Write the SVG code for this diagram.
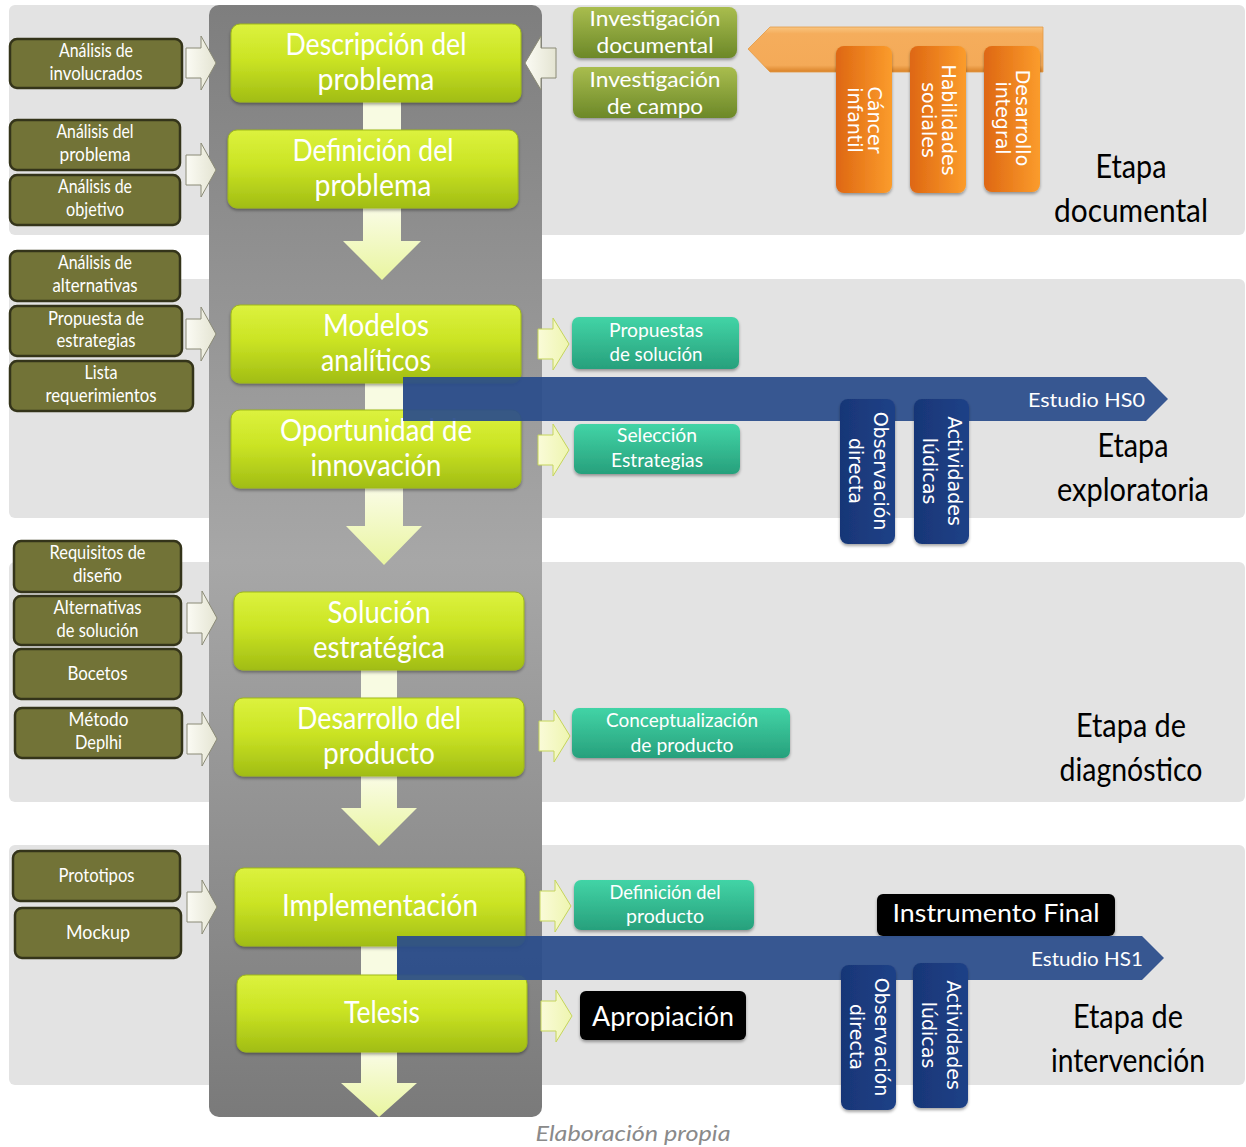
<svg xmlns="http://www.w3.org/2000/svg" width="1246" height="1147" viewBox="0 0 1246 1147">
<defs>
  <linearGradient id="gCol" x1="0" y1="0" x2="0" y2="1">
    <stop offset="0" stop-color="#7e7e7e"/><stop offset="0.5" stop-color="#a7a7a7"/><stop offset="1" stop-color="#7a7a7a"/>
  </linearGradient>
  <linearGradient id="gProc" x1="0" y1="0" x2="0" y2="1">
    <stop offset="0" stop-color="#dcf23e"/><stop offset="0.45" stop-color="#cbe424"/><stop offset="1" stop-color="#a1bd14"/>
  </linearGradient>
  <linearGradient id="gTeal" x1="0" y1="0" x2="0" y2="1">
    <stop offset="0" stop-color="#42d4a6"/><stop offset="1" stop-color="#27a07c"/>
  </linearGradient>
  <linearGradient id="gInv" x1="0" y1="0" x2="0" y2="1">
    <stop offset="0" stop-color="#a9bd4e"/><stop offset="1" stop-color="#6c8828"/>
  </linearGradient>
  <linearGradient id="gOrg" x1="0" y1="0" x2="1" y2="0">
    <stop offset="0" stop-color="#de6712"/><stop offset="1" stop-color="#fb9c2c"/>
  </linearGradient>
  <linearGradient id="gOrgArr" x1="0" y1="0" x2="0" y2="1">
    <stop offset="0" stop-color="#f9c57f"/><stop offset="0.15" stop-color="#f5ad5c"/><stop offset="0.85" stop-color="#f4aa58"/><stop offset="1" stop-color="#d98228"/>
  </linearGradient>
  <linearGradient id="gNavy" x1="0" y1="0" x2="1" y2="0">
    <stop offset="0" stop-color="#183677"/><stop offset="1" stop-color="#1f4187"/>
  </linearGradient>
  <linearGradient id="gDown" x1="0" y1="0" x2="0" y2="1">
    <stop offset="0" stop-color="#fafce6"/><stop offset="1" stop-color="#e9f5a0"/>
  </linearGradient>
  <linearGradient id="gCream" x1="0" y1="0" x2="1" y2="0">
    <stop offset="0" stop-color="#fbfbf4"/><stop offset="1" stop-color="#e4e4d2"/>
  </linearGradient>
  <linearGradient id="gYel" x1="0" y1="0" x2="1" y2="0">
    <stop offset="0" stop-color="#fafbd8"/><stop offset="1" stop-color="#eef5b0"/>
  </linearGradient>
  <filter id="sh" x="-10%" y="-20%" width="120%" height="150%">
    <feDropShadow dx="0" dy="2" stdDeviation="1.5" flood-color="#000" flood-opacity="0.35"/>
  </filter>
</defs>
<style>
  .band{fill:#e3e3e3}
  .proc rect{fill:url(#gProc);stroke:#9fb91a;stroke-width:1;filter:url(#sh)}
  .proc text{font-family:Lato,"Liberation Sans",sans-serif;font-size:30px;fill:#fff;text-anchor:middle}
  .olive rect{fill:#727337;stroke:#34341a;stroke-width:2.5}
  .olive text{font-family:Lato,"Liberation Sans",sans-serif;font-size:19px;fill:#fff;text-anchor:middle}
  .teal rect{fill:url(#gTeal);filter:url(#sh)}
  .teal text{font-family:Lato,"Liberation Sans",sans-serif;font-size:20px;fill:#fff;text-anchor:middle}
  .inv rect{fill:url(#gInv);filter:url(#sh)}
  .inv text{font-family:Lato,"Liberation Sans",sans-serif;font-size:21px;fill:#fff;text-anchor:middle}
  .orng rect{fill:url(#gOrg);filter:url(#sh)}
  .navy rect{fill:url(#gNavy);filter:url(#sh)}
  .vt{font-family:"DejaVu Sans",sans-serif;font-size:19px;fill:#fff;text-anchor:middle}
  .etapa text{font-family:Lato,"Liberation Sans",sans-serif;font-size:33px;fill:#000;text-anchor:middle}
  .blk rect{fill:#000;filter:url(#sh)}
  .blk text{font-family:Lato,"Liberation Sans",sans-serif;fill:#fff;text-anchor:middle}
  .study path{fill:#2a4c8b;fill-opacity:0.93}
  .study text{font-family:Lato,"Liberation Sans",sans-serif;font-size:20px;fill:#fff;text-anchor:end}
  .lar{fill:url(#gCream);stroke:#8a8a76;stroke-width:1}
  .rar{fill:url(#gYel);stroke:#c5d55a;stroke-width:1}
  .down{fill:url(#gDown)}
  .link{fill:#f8fbe2}
  .cap{font-family:Lato,"Liberation Sans",sans-serif;font-style:italic;font-size:22px;fill:#8a8a8a;text-anchor:middle}
</style>

<g id="background">
  <rect class="band" x="9" y="5" width="1236" height="230" rx="6"/>
  <rect class="band" x="9" y="279" width="1236" height="239" rx="6"/>
  <rect class="band" x="9" y="562" width="1236" height="240" rx="6"/>
  <rect class="band" x="9" y="845" width="1236" height="240" rx="6"/>
  <rect x="209" y="5" width="333" height="1112" rx="10" fill="url(#gCol)"/>
</g>

<g id="connectors">
  <rect class="link" x="363" y="101" width="38" height="30"/>
  <rect class="link" x="365" y="382" width="38" height="29"/>
  <rect class="link" x="361" y="669" width="36" height="30"/>
  <rect class="link" x="361" y="945" width="36" height="31"/>
  <path class="down" d="M363,207 H401 V241 H421 L382,280 L343,241 H363 Z"/>
  <path class="down" d="M365,487 H403 V526 H422 L384,565 L346,526 H365 Z"/>
  <path class="down" d="M361,775 H397 V808 H417 L379,846 L341,808 H361 Z"/>
  <path class="down" d="M361,1051 H397 V1083 H417 L379,1117 L341,1083 H361 Z"/>
  <path class="lar" d="M186,48 H201 V36 L216,63 L201,90 V78 H186 Z"/>
  <path class="lar" d="M186,155 H201 V143 L216,170 L201,197 V185 H186 Z"/>
  <path class="lar" d="M186,319 H201 V307 L216,334 L201,361 V349 H186 Z"/>
  <path class="lar" d="M187,603 H202 V591 L217,618 L202,645 V633 H187 Z"/>
  <path class="lar" d="M187,724 H202 V712 L217,739 L202,766 V754 H187 Z"/>
  <path class="lar" d="M187,892 H202 V880 L217,907 L202,934 V922 H187 Z"/>
  <path class="lar" d="M556,48 H541 V36 L525,63 L541,90 V78 H556 Z"/>
  <path class="rar" d="M538,329 H553 V318 L569,344 L553,370 V359 H538 Z"/>
  <path class="rar" d="M538,435 H553 V424 L569,450 L553,476 V465 H538 Z"/>
  <path class="rar" d="M539,721 H554 V710 L570,736 L554,762 V751 H539 Z"/>
  <path class="rar" d="M540,891 H555 V880 L571,906 L555,932 V921 H540 Z"/>
  <path class="rar" d="M541,1001 H556 V990 L572,1016 L556,1042 V1031 H541 Z"/>
  <path d="M748,49 L770,27 H1043 V72 H770 Z" fill="url(#gOrgArr)" stroke="#e39a45" stroke-width="0.8"/>
</g>

<g id="n-involucrados" class="olive"><rect x="10" y="39" width="172" height="49" rx="7"/>
  <text x="96" y="57" textLength="74" lengthAdjust="spacingAndGlyphs">Análisis de</text>
  <text x="96" y="80" textLength="93" lengthAdjust="spacingAndGlyphs">involucrados</text></g>
<g id="n-analisis-problema" class="olive"><rect x="10" y="120" width="170" height="50" rx="7"/>
  <text x="95" y="138" textLength="77" lengthAdjust="spacingAndGlyphs">Análisis del</text>
  <text x="95" y="161" textLength="71" lengthAdjust="spacingAndGlyphs">problema</text></g>
<g id="n-analisis-objetivo" class="olive"><rect x="10" y="175" width="170" height="50" rx="7"/>
  <text x="95" y="193" textLength="74" lengthAdjust="spacingAndGlyphs">Análisis de</text>
  <text x="95" y="216" textLength="58" lengthAdjust="spacingAndGlyphs">objetivo</text></g>
<g id="n-alternativas" class="olive"><rect x="10" y="251" width="170" height="50" rx="7"/>
  <text x="95" y="269" textLength="74" lengthAdjust="spacingAndGlyphs">Análisis de</text>
  <text x="95" y="292" textLength="85" lengthAdjust="spacingAndGlyphs">alternativas</text></g>
<g id="n-propuesta" class="olive"><rect x="10" y="306" width="172" height="50" rx="7"/>
  <text x="96" y="325" textLength="96" lengthAdjust="spacingAndGlyphs">Propuesta de</text>
  <text x="96" y="347" textLength="79" lengthAdjust="spacingAndGlyphs">estrategias</text></g>
<g id="n-lista" class="olive"><rect x="10" y="361" width="183" height="50" rx="7"/>
  <text x="101" y="379" textLength="33" lengthAdjust="spacingAndGlyphs">Lista</text>
  <text x="101" y="402" textLength="111" lengthAdjust="spacingAndGlyphs">requerimientos</text></g>
<g id="n-requisitos" class="olive"><rect x="14" y="541" width="167" height="51" rx="7"/>
  <text x="97.5" y="559" textLength="96" lengthAdjust="spacingAndGlyphs">Requisitos de</text>
  <text x="97.5" y="582" textLength="49" lengthAdjust="spacingAndGlyphs">diseño</text></g>
<g id="n-alt-solucion" class="olive"><rect x="14" y="596" width="167" height="49" rx="7"/>
  <text x="97.5" y="614" textLength="88" lengthAdjust="spacingAndGlyphs">Alternativas</text>
  <text x="97.5" y="637" textLength="82" lengthAdjust="spacingAndGlyphs">de solución</text></g>
<g id="n-bocetos" class="olive"><rect x="14" y="649" width="167" height="50" rx="7"/>
  <text x="97.5" y="680" textLength="60" lengthAdjust="spacingAndGlyphs">Bocetos</text></g>
<g id="n-delphi" class="olive"><rect x="15" y="708" width="167" height="50" rx="7"/>
  <text x="98.5" y="726" textLength="60" lengthAdjust="spacingAndGlyphs">Método</text>
  <text x="98.5" y="749" textLength="47" lengthAdjust="spacingAndGlyphs">Deplhi</text></g>
<g id="n-prototipos" class="olive"><rect x="13" y="851" width="167" height="50" rx="7"/>
  <text x="96.5" y="882" textLength="76" lengthAdjust="spacingAndGlyphs">Prototipos</text></g>
<g id="n-mockup" class="olive"><rect x="15" y="908" width="166" height="50" rx="7"/>
  <text x="98" y="939" textLength="64" lengthAdjust="spacingAndGlyphs">Mockup</text></g>

<g id="p-descripcion" class="proc"><rect x="231" y="24" width="290" height="78" rx="9"/>
  <text x="376" y="55" textLength="181" lengthAdjust="spacingAndGlyphs">Descripción del</text>
  <text x="376" y="90" textLength="117" lengthAdjust="spacingAndGlyphs">problema</text></g>
<g id="p-definicion" class="proc"><rect x="228" y="130" width="290" height="78" rx="9"/>
  <text x="373" y="161" textLength="161" lengthAdjust="spacingAndGlyphs">Definición del</text>
  <text x="373" y="196" textLength="117" lengthAdjust="spacingAndGlyphs">problema</text></g>
<g id="p-modelos" class="proc"><rect x="231" y="305" width="290" height="78" rx="9"/>
  <text x="376" y="336" textLength="106" lengthAdjust="spacingAndGlyphs">Modelos</text>
  <text x="376" y="371" textLength="110" lengthAdjust="spacingAndGlyphs">analíticos</text></g>
<g id="p-oportunidad" class="proc"><rect x="231" y="410" width="290" height="78" rx="9"/>
  <text x="376" y="441" textLength="192" lengthAdjust="spacingAndGlyphs">Oportunidad de</text>
  <text x="376" y="476" textLength="131" lengthAdjust="spacingAndGlyphs">innovación</text></g>
<g id="p-solucion" class="proc"><rect x="234" y="592" width="290" height="78" rx="9"/>
  <text x="379" y="623" textLength="103" lengthAdjust="spacingAndGlyphs">Solución</text>
  <text x="379" y="658" textLength="132" lengthAdjust="spacingAndGlyphs">estratégica</text></g>
<g id="p-desarrollo" class="proc"><rect x="234" y="698" width="290" height="78" rx="9"/>
  <text x="379" y="729" textLength="164" lengthAdjust="spacingAndGlyphs">Desarrollo del</text>
  <text x="379" y="764" textLength="112" lengthAdjust="spacingAndGlyphs">producto</text></g>
<g id="p-implementacion" class="proc"><rect x="235" y="868" width="290" height="78" rx="9"/>
  <text x="380" y="916" textLength="196" lengthAdjust="spacingAndGlyphs">Implementación</text></g>
<g id="p-telesis" class="proc"><rect x="237" y="975" width="290" height="77" rx="9"/>
  <text x="382" y="1023" textLength="76" lengthAdjust="spacingAndGlyphs">Telesis</text></g>

<g id="n-inv-documental" class="inv"><rect x="573" y="7" width="164" height="51" rx="8"/>
  <text x="655" y="26" textLength="131" lengthAdjust="spacingAndGlyphs">Investigación</text>
  <text x="655" y="53" textLength="117" lengthAdjust="spacingAndGlyphs">documental</text></g>
<g id="n-inv-campo" class="inv"><rect x="573" y="67" width="164" height="51" rx="8"/>
  <text x="655" y="87" textLength="131" lengthAdjust="spacingAndGlyphs">Investigación</text>
  <text x="655" y="114" textLength="96" lengthAdjust="spacingAndGlyphs">de campo</text></g>

<g id="n-cancer" class="orng"><rect x="836" y="46" width="56" height="147" rx="8"/>
  <g transform="translate(864,120) rotate(90)"><text class="vt" x="0" y="-3.5">Cáncer</text><text class="vt" x="0" y="16">infantil</text></g></g>
<g id="n-habilidades" class="orng"><rect x="910" y="46" width="56" height="147" rx="8"/>
  <g transform="translate(938,120) rotate(90)"><text class="vt" x="0" y="-3.5">Habilidades</text><text class="vt" x="0" y="16">sociales</text></g></g>
<g id="n-desarrollo-integral" class="orng"><rect x="984" y="46" width="56" height="146" rx="8"/>
  <g transform="translate(1012,118) rotate(90)"><text class="vt" x="0" y="-3.5">Desarrollo</text><text class="vt" x="0" y="16">integral</text></g></g>

<g id="n-propuestas" class="teal"><rect x="572" y="317" width="167" height="52" rx="7"/>
  <text x="656" y="337" textLength="94" lengthAdjust="spacingAndGlyphs">Propuestas</text>
  <text x="656" y="361" textLength="93" lengthAdjust="spacingAndGlyphs">de solución</text></g>
<g id="n-seleccion" class="teal"><rect x="574" y="424" width="166" height="50" rx="7"/>
  <text x="657" y="442" textLength="80" lengthAdjust="spacingAndGlyphs">Selección</text>
  <text x="657" y="467" textLength="92" lengthAdjust="spacingAndGlyphs">Estrategias</text></g>
<g id="n-conceptualizacion" class="teal"><rect x="572" y="708" width="218" height="50" rx="7"/>
  <text x="682" y="727" textLength="152" lengthAdjust="spacingAndGlyphs">Conceptualización</text>
  <text x="682" y="752" textLength="103" lengthAdjust="spacingAndGlyphs">de producto</text></g>
<g id="n-def-producto" class="teal"><rect x="574" y="880" width="180" height="50" rx="7"/>
  <text x="665" y="899" textLength="111" lengthAdjust="spacingAndGlyphs">Definición del</text>
  <text x="665" y="923" textLength="78" lengthAdjust="spacingAndGlyphs">producto</text></g>

<g id="n-instrumento" class="blk"><rect x="877" y="894" width="238" height="42" rx="6"/>
  <text x="996" y="922" font-size="25" textLength="207" lengthAdjust="spacingAndGlyphs">Instrumento  Final</text></g>
<g id="n-apropiacion" class="blk"><rect x="580" y="991" width="166" height="49" rx="6"/>
  <text x="663" y="1026" font-size="27" textLength="142" lengthAdjust="spacingAndGlyphs">Apropiación</text></g>

<g id="n-estudio-hs0" class="study"><path d="M403,377 H1146 L1168,399 L1146,421 H403 Z"/>
  <text x="1145" y="407" textLength="117" lengthAdjust="spacingAndGlyphs">Estudio HS0</text></g>
<g id="n-estudio-hs1" class="study"><path d="M397,936 H1142 L1164,958 L1142,980 H397 Z"/>
  <text x="1143" y="966" textLength="112" lengthAdjust="spacingAndGlyphs">Estudio HS1</text></g>

<g id="n-obs-0" class="navy"><rect x="840" y="399" width="55" height="145" rx="8"/>
  <g transform="translate(867.5,471) rotate(90)"><text class="vt" x="0" y="-6.5">Observación</text><text class="vt" x="0" y="19">directa</text></g></g>
<g id="n-act-0" class="navy"><rect x="914" y="399" width="55" height="145" rx="8"/>
  <g transform="translate(941.5,471) rotate(90)"><text class="vt" x="0" y="-6.5">Actividades</text><text class="vt" x="0" y="19">lúdicas</text></g></g>
<g id="n-obs-1" class="navy"><rect x="841" y="965" width="55" height="145" rx="8"/>
  <g transform="translate(868.5,1037) rotate(90)"><text class="vt" x="0" y="-6.5">Observación</text><text class="vt" x="0" y="19">directa</text></g></g>
<g id="n-act-1" class="navy"><rect x="913" y="963" width="55" height="145" rx="8"/>
  <g transform="translate(940.5,1035) rotate(90)"><text class="vt" x="0" y="-6.5">Actividades</text><text class="vt" x="0" y="19">lúdicas</text></g></g>

<g id="etapa-documental" class="etapa">
  <text x="1131" y="178" textLength="71" lengthAdjust="spacingAndGlyphs">Etapa</text>
  <text x="1131" y="222" textLength="154" lengthAdjust="spacingAndGlyphs">documental</text></g>
<g id="etapa-exploratoria" class="etapa">
  <text x="1133" y="457" textLength="71" lengthAdjust="spacingAndGlyphs">Etapa</text>
  <text x="1133" y="501" textLength="152" lengthAdjust="spacingAndGlyphs">exploratoria</text></g>
<g id="etapa-diagnostico" class="etapa">
  <text x="1131" y="737" textLength="110" lengthAdjust="spacingAndGlyphs">Etapa de</text>
  <text x="1131" y="781" textLength="143" lengthAdjust="spacingAndGlyphs">diagnóstico</text></g>
<g id="etapa-intervencion" class="etapa">
  <text x="1128" y="1028" textLength="110" lengthAdjust="spacingAndGlyphs">Etapa de</text>
  <text x="1128" y="1072" textLength="154" lengthAdjust="spacingAndGlyphs">intervención</text></g>

<text class="cap" x="633" y="1141" textLength="195" lengthAdjust="spacingAndGlyphs">Elaboración propia</text>
</svg>
